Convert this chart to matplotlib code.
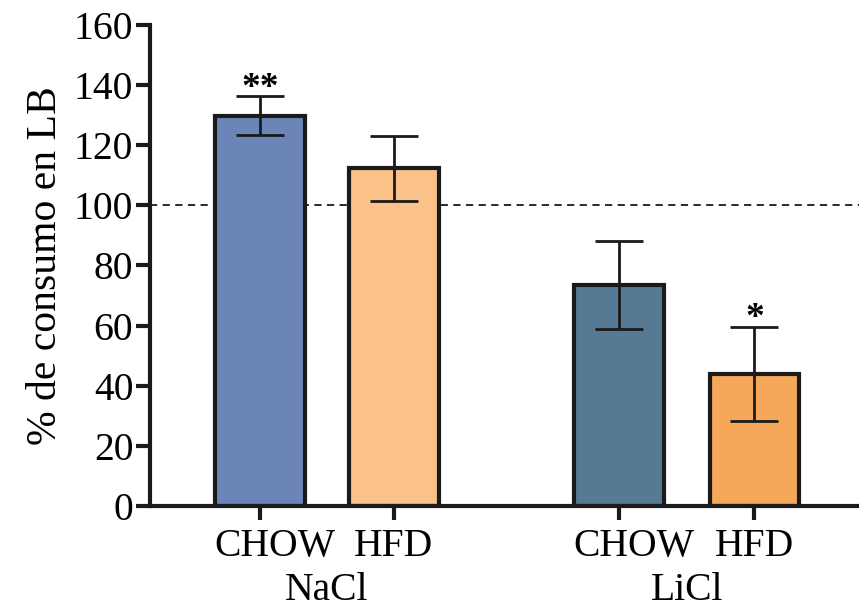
import matplotlib.pyplot as plt
import matplotlib.transforms as mtransforms

plt.rcParams["font.family"] = ["Liberation Serif", "DejaVu Serif"]

# data
groups = ["NaCl", "LiCl"]
diets = ["CHOW", "HFD", "CHOW", "HFD"]
means = [129.8, 112.3, 73.5, 44.0]
errors = [6.5, 10.7, 14.7, 15.6]
stars = ["**", "", "", "*"]
colors = ["#6c85b8", "#fac188", "#577a94", "#f5a85a"]

x = [0, 1, 2.68, 3.69]
group_x = [0.5, 3.185]

fig = plt.figure(figsize=(8.59, 6.12), dpi=100)
ax = fig.add_axes([0.1746, 0.1732, 0.8254, 0.786])

ax.axhline(100, color="#1a1a1a", lw=1.3, ls=(0, (4, 3)), zorder=1)

ax.bar(x, means, width=0.67, color=colors, edgecolor="#1a1a1a", linewidth=3, zorder=2)
ax.errorbar(x, means, yerr=errors, fmt="none", ecolor="#1a1a1a", elinewidth=2,
            capsize=17, capthick=2, zorder=3)

for xi, m, e, s in zip(x, means, errors, stars):
    if s:
        ax.text(xi, m + e - 0.5, s, ha="center", va="baseline", fontsize=27,
                fontweight="bold")

ax.set_xlim(-0.82, 4.47)
ax.set_ylim(0, 160)
ax.set_yticks(range(0, 161, 20))
ax.set_xticks(x)
ax.set_xticklabels(diets)

for sp in ["top", "right"]:
    ax.spines[sp].set_visible(False)
for sp in ["left", "bottom"]:
    ax.spines[sp].set_linewidth(3)
    ax.spines[sp].set_color("#1a1a1a")

ax.tick_params(axis="both", length=10, width=3, color="#1a1a1a", labelsize=28.5, pad=2)
ax.tick_params(axis="x", pad=6)

# CHOW labels sit a bit right of their ticks in the original
shift = mtransforms.ScaledTranslation(15 / 100, 0, fig.dpi_scale_trans)
for lab in ax.get_xticklabels():
    if lab.get_text() == "CHOW":
        lab.set_transform(lab.get_transform() + shift)

for gx, g in zip(group_x, groups):
    ax.text(gx, -28, g, ha="center", va="center", fontsize=28.5,
            transform=ax.transData, clip_on=False)

ax.set_ylabel("% de consumo en LB", fontsize=30, labelpad=6)

fig.savefig("out.png", dpi=100)
